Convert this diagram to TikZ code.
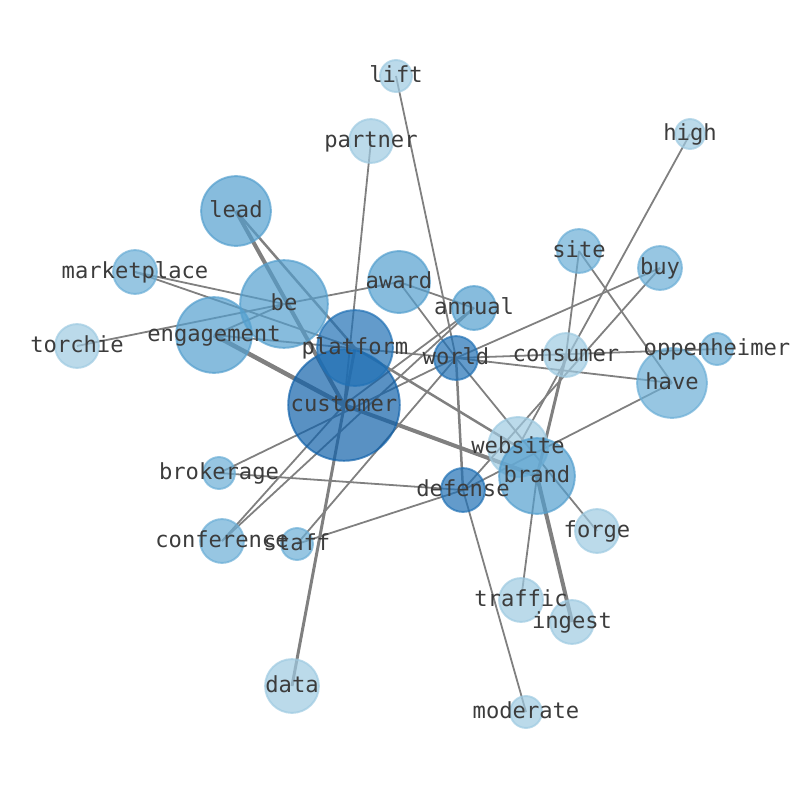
\documentclass[tikz,border=0pt]{standalone}
\usepackage{fontspec}
\setmonofont{DejaVu Sans Mono}
\pgfdeclarelayer{edges}
\pgfsetlayers{edges,main}
\definecolor{bluA}{HTML}{9ECAE1}
\definecolor{bluB}{HTML}{6BAED6}
\definecolor{bluC}{HTML}{549FCE}
\definecolor{bluD}{HTML}{2171B5}
\definecolor{bluE}{HTML}{1262AA}
\definecolor{edgegray}{RGB}{128,128,128}
\definecolor{wordgray}{RGB}{60,60,60}
\tikzset{
  disk/.style={circle,inner sep=0pt,draw=#1,fill=#1,opacity=0.7,line width=1.4pt},
  rad/.style={minimum size=#1*1.44pt},
  word/.style={font=\ttfamily\fontsize{16}{16}\selectfont,text=wordgray,inner sep=0pt,
    text height=1.15em,text depth=0.17em},
  link/.style={edgegray,line width=#1*0.72pt},
  link/.default=1.8
}

\begin{document}
\begin{tikzpicture}[x=0.254mm,y=-0.254mm]
  \useasboundingbox (0,0) rectangle (794,790);
  %节点
  \node[disk=bluA,rad=16] (lift) at (396,76) {};
  \node[disk=bluA,rad=22] (partner) at (371,141) {};
  \node[disk=bluA,rad=15] (high) at (690,134) {};
  \node[disk=bluC,rad=35] (lead) at (236,211) {};
  \node[disk=bluB,rad=22] (marketplace) at (135,272) {};
  \node[disk=bluC,rad=44] (be) at (284,304) {};
  \node[disk=bluC,rad=31] (award) at (399,282) {};
  \node[disk=bluC,rad=22] (annual) at (474,308) {};
  \node[disk=bluB,rad=22] (site) at (579,251) {};
  \node[disk=bluB,rad=22] (buy) at (660,268) {};
  \node[disk=bluA,rad=22] (torchie) at (77,346) {};
  \node[disk=bluC,rad=38] (engagement) at (214,335) {};
  \node[disk=bluE,rad=56] (customer) at (344,405) {};
  \node[disk=bluD,rad=38] (platform) at (355,348) {};
  \node[disk=bluD,rad=22] (world) at (456,358) {};
  \node[disk=bluA,rad=22] (consumer) at (566,355) {};
  \node[disk=bluB,rad=16] (oppenheimer) at (717,349) {};
  \node[disk=bluB,rad=35] (have) at (672,383) {};
  \node[disk=bluA,rad=30] (website) at (518,447) {};
  \node[disk=bluC,rad=38] (brand) at (537,476) {};
  \node[disk=bluD,rad=22] (defense) at (463,490) {};
  \node[disk=bluB,rad=16] (brokerage) at (219,473) {};
  \node[disk=bluA,rad=22] (forge) at (597,531) {};
  \node[disk=bluB,rad=22] (conference) at (222,541) {};
  \node[disk=bluB,rad=16] (staff) at (297,544) {};
  \node[disk=bluA,rad=22] (traffic) at (521,600) {};
  \node[disk=bluA,rad=22] (ingest) at (572,622) {};
  \node[disk=bluA,rad=27] (data) at (292,686) {};
  \node[disk=bluA,rad=16] (moderate) at (526,712) {};
  %标注
  \node[word] (lift-w) at (lift) {lift};
  \node[word] (partner-w) at (partner) {partner};
  \node[word] (high-w) at (high) {high};
  \node[word] (lead-w) at (lead) {lead};
  \node[word] (marketplace-w) at (marketplace) {marketplace};
  \node[word] (be-w) at (be) {be};
  \node[word] (award-w) at (award) {award};
  \node[word] (annual-w) at (annual) {annual};
  \node[word] (site-w) at (site) {site};
  \node[word] (buy-w) at (buy) {buy};
  \node[word] (torchie-w) at (torchie) {torchie};
  \node[word] (engagement-w) at (engagement) {engagement};
  \node[word] (customer-w) at (customer) {customer};
  \node[word] (platform-w) at (platform) {platform};
  \node[word] (world-w) at (world) {world};
  \node[word] (consumer-w) at (consumer) {consumer};
  \node[word] (oppenheimer-w) at (oppenheimer) {oppenheimer};
  \node[word] (have-w) at (have) {have};
  \node[word] (website-w) at (website) {website};
  \node[word] (brand-w) at (brand) {brand};
  \node[word] (defense-w) at (defense) {defense};
  \node[word] (brokerage-w) at (brokerage) {brokerage};
  \node[word] (forge-w) at (forge) {forge};
  \node[word] (conference-w) at (conference) {conference};
  \node[word] (staff-w) at (staff) {staff};
  \node[word] (traffic-w) at (traffic) {traffic};
  \node[word] (ingest-w) at (ingest) {ingest};
  \node[word] (data-w) at (data) {data};
  \node[word] (moderate-w) at (moderate) {moderate};
  %连线
  \begin{pgfonlayer}{edges}
    \draw[link] (lift.center) -- (world.center);
    \draw[link] (partner.center) -- (customer.center);
    \draw[link=3] (data.center) -- (platform.center);
    \draw[link] (high.center) -- (website.center);
    \draw[link=4] (lead.center) -- (customer.center);
    \draw[link=2.5] (lead.center) -- (platform.center);
    \draw[link] (marketplace.center) -- (be.center);
    \draw[link] (marketplace.center) -- (platform.center);
    \draw[link] (torchie.center) -- (be.center) -- (award.center);
    \draw[link] (engagement.center) -- (be.center);
    \draw[link] (engagement.center) -- (world.center);
    \draw[link=4.5] (engagement.center) -- (customer.center);
    \draw[link=4] (customer.center) -- (brand.center);
    \draw[link=2.5] (platform.center) -- (website.center);
    \draw[link] (award.center) -- (annual.center);
    \draw[link] (award.center) -- (world.center);
    \draw[link] (world.center) -- (forge.center);
    \draw[link] (world.center) -- (oppenheimer.center);
    \draw[link] (world.center) -- (have.center);
    \draw[link] (world.center) -- (buy.center);
    \draw[link=2.5] (world.center) -- (defense.center);
    \draw[link] (world.center) -- (staff.center);
    \draw[link] (world.center) -- (brokerage.center);
    \draw[link] (customer.center) -- (annual.center);
    \draw[link] (conference.center) -- (annual.center);
    \draw[link] (conference.center) -- (customer.center);
    \draw[link] (brokerage.center) -- (defense.center);
    \draw[link] (staff.center) -- (defense.center);
    \draw[link] (defense.center) -- (moderate.center);
    \draw[link] (buy.center) -- (defense.center);
    \draw[link] (defense.center) -- (have.center);
    \draw[link] (site.center) -- (consumer.center);
    \draw[link=3] (consumer.center) -- (brand.center);
    \draw[link] (site.center) -- (have.center);
    \draw[link] (brand.center) -- (traffic.center);
    \draw[link=4] (brand.center) -- (ingest.center);
  \end{pgfonlayer}
\end{tikzpicture}
\end{document}
